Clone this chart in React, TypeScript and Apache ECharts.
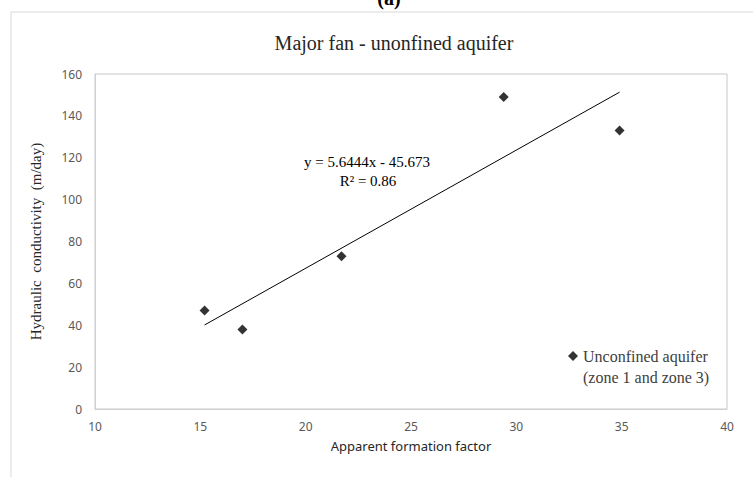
import React, { useEffect, useRef } from "react";
import * as echarts from "echarts";

const formationFactor = [15.2, 17.0, 21.7, 29.4, 34.9];
const conductivity = [47, 38, 73, 149, 133];
const trendSlope = 5.6444;
const trendIntercept = -45.673;
const trendText = ["y = 5.6444x - 45.673", "R² = 0.86"];
const seriesName = "Unconfined aquifer";
const seriesNameLine2 = "(zone 1 and zone 3)";

export default function App() {
  const ref = useRef<HTMLDivElement>(null);
  useEffect(() => {
    if (!ref.current) return;
    const chart = echarts.init(ref.current, undefined, { renderer: "svg" });
    const xMinData = Math.min(...formationFactor);
    const xMaxData = Math.max(...formationFactor);
    const trend = [
      [xMinData, trendSlope * xMinData + trendIntercept],
      [xMaxData, trendSlope * xMaxData + trendIntercept],
    ];
    const serif = "'Liberation Serif', 'Times New Roman', serif";
    const sans = "'Noto Sans', 'Open Sans', sans-serif";
    chart.setOption({
      animation: false,
      backgroundColor: "#ffffff",
      grid: {
        left: 95,
        right: 26,
        top: 74,
        bottom: 68,
        show: true,
        borderColor: "#c8c8c8",
        borderWidth: 1,
      },
      legend: {
        data: [seriesName],
        left: 563,
        top: 343,
        itemWidth: 10,
        itemHeight: 10,
        icon: "diamond",
        textStyle: { fontFamily: serif, fontSize: 16, color: "#404040" },
      },
      xAxis: {
        type: "value",
        min: 10,
        max: 40,
        interval: 5,
        name: "Apparent formation factor",
        nameLocation: "middle",
        nameGap: 30,
        nameTextStyle: { fontFamily: sans, fontSize: 13, color: "#262626" },
        axisLine: { show: true, lineStyle: { color: "#d0d0d0" } },
        axisTick: { show: false },
        splitLine: { show: false },
        axisLabel: { fontFamily: sans, fontSize: 12, color: "#595959", margin: 11 },
      },
      yAxis: {
        type: "value",
        min: 0,
        max: 160,
        interval: 20,
        name: "Hydraulic  conductivity  (m/day)",
        nameLocation: "middle",
        nameGap: 52,
        nameTextStyle: { fontFamily: serif, fontSize: 15, color: "#262626" },
        axisLine: { show: true, lineStyle: { color: "#d0d0d0" } },
        axisTick: { show: false },
        splitLine: { show: false },
        axisLabel: { fontFamily: sans, fontSize: 12, color: "#595959", margin: 13 },
      },
      series: [
        {
          name: seriesName,
          type: "scatter",
          symbol: "diamond",
          symbolSize: 10,
          itemStyle: { color: "#000000" },
          data: formationFactor.map((x, i) => [x, conductivity[i]]),
          z: 3,
        },
        {
          name: "Linear trend",
          type: "line",
          showSymbol: false,
          symbol: "none",
          lineStyle: { color: "#000000", width: 1 },
          data: trend,
          z: 2,
        },
      ],
      graphic: [
        {
          type: "rect",
          shape: { x: 11, y: 12, width: 800, height: 520 },
          style: { fill: "none", stroke: "#d9d9d9", lineWidth: 1 },
          silent: true,
          z: -1,
        },
        {
          type: "text",
          x: 389,
          y: -2,
          style: {
            text: "(a)",
            font: `bold 20px ${serif}`,
            fill: "#000000",
            textAlign: "center",
            textVerticalAlign: "middle",
          },
        },
        {
          type: "text",
          x: 394,
          y: 43,
          style: {
            text: "Major fan - unonfined aquifer",
            font: `20px ${serif}`,
            fill: "#262626",
            textAlign: "center",
            textVerticalAlign: "middle",
          },
        },
        {
          type: "text",
          x: 367,
          y: 162,
          style: {
            text: trendText[0],
            font: `15px ${serif}`,
            fill: "#000000",
            textAlign: "center",
            textVerticalAlign: "middle",
          },
        },
        {
          type: "text",
          x: 368,
          y: 181,
          style: {
            text: trendText[1],
            font: `15px ${serif}`,
            fill: "#000000",
            textAlign: "center",
            textVerticalAlign: "middle",
          },
        },
        {
          type: "text",
          x: 583,
          y: 377,
          style: {
            text: seriesNameLine2,
            font: `16px ${serif}`,
            fill: "#404040",
            textAlign: "left",
            textVerticalAlign: "middle",
          },
        },
      ],
    });
    return () => chart.dispose();
  }, []);
  return (
    <div
      ref={ref}
      style={{ position: "fixed", left: 0, top: 0, width: 753, height: 477 }}
    />
  );
}
